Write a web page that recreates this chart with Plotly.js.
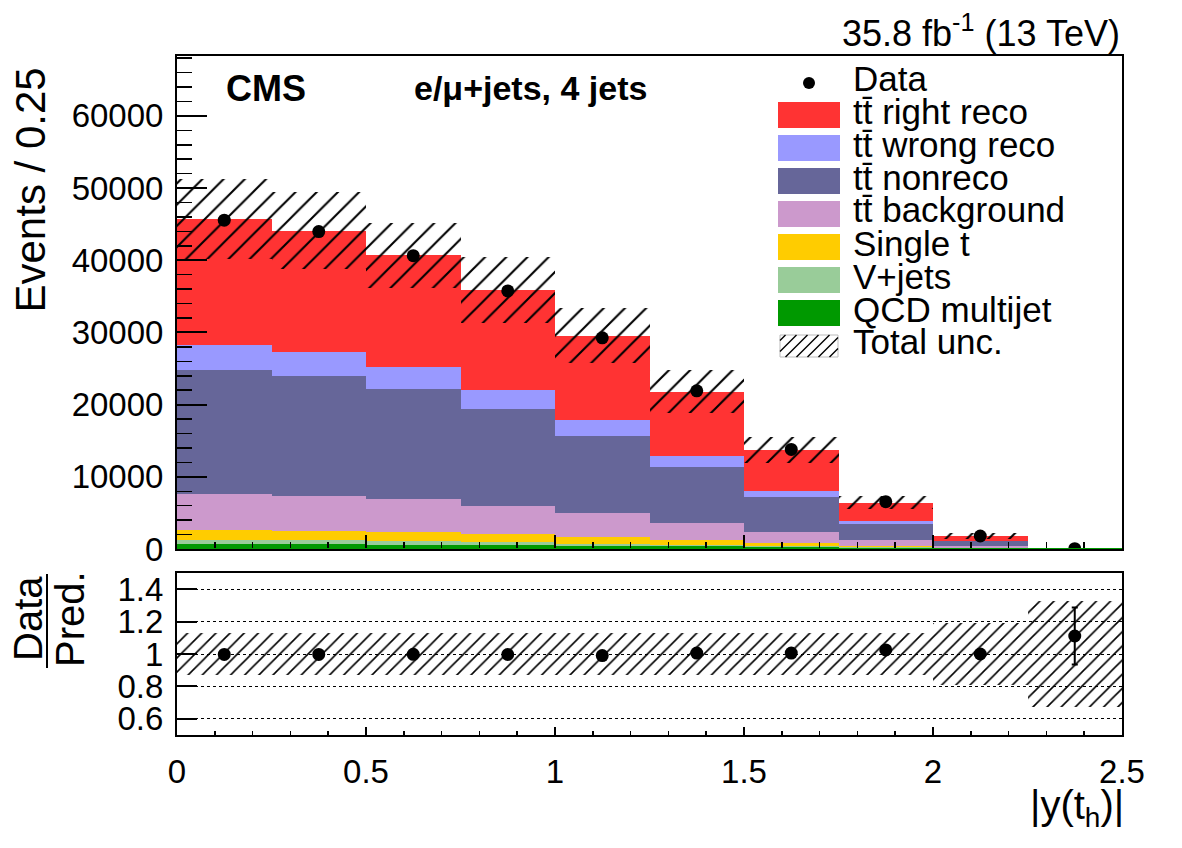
<!DOCTYPE html>
<html>
<head>
<meta charset="utf-8">
<script src="https://cdn.plot.ly/plotly-3.0.1.min.js"></script>
<style>
  html, body { margin: 0; padding: 0; background: #ffffff; }
  #chart { width: 1182px; height: 848px; }
</style>
</head>
<body>
<div id="chart"></div>
<script>
// |y(t_h)| bins, width 0.25
const binCenters = [0.125, 0.375, 0.625, 0.875, 1.125, 1.375, 1.625, 1.875, 2.125, 2.375];

// Stacked predictions (events per bin), bottom to top
const qcdMultijet  = [690, 650, 620, 550, 420, 350, 210, 140, 40, 0.5];
const vJets        = [560, 530, 490, 420, 340, 270, 210, 140, 60, 1.5];
const singleTop    = [1380, 1360, 1290, 1110, 860, 630, 410, 200, 70, 2];
const ttBackground = [4990, 4850, 4480, 3920, 3320, 2310, 1480, 770, 180, 5];
const ttNonreco    = [17170, 16610, 15280, 13390, 10760, 7840, 4930, 2170, 690, 10];
const ttWrongReco  = [3460, 3330, 3090, 2630, 2170, 1520, 840, 460, 110, 3];
const ttRightReco  = [17410, 16760, 15470, 13850, 11670, 8870, 5630, 2520, 650, 14];

// Observed data
const dataCounts = [45550, 43980, 40640, 35760, 29250, 21920, 13790, 6560, 1800, 40];

// Total uncertainty (absolute, upper panel) and relative band (ratio panel)
const totalUnc = [5540, 5335, 4500, 4620, 3810, 2955, 1850, 925, 465, 10];
const ratioUnc = [0.132, 0.132, 0.132, 0.132, 0.132, 0.132, 0.132, 0.132, 0.19, 0.33];

// Axis tick labels
const ratioTickVals = [0.6, 0.8, 1.0, 1.2, 1.4];
const ratioTickText = ['0.6', '0.8', '1', '1.2', '1.4'];
const xTickVals = [0, 0.5, 1, 1.5, 2, 2.5];
const xTickText = ['0', '0.5', '1', '1.5', '2', '2.5'];

const TT = 'tt\u0304';
const series = [
  { name: 'QCD multijet',         values: qcdMultijet,  color: '#009900' },
  { name: 'V+jets',               values: vJets,        color: '#99cc99' },
  { name: 'Single t',             values: singleTop,    color: '#ffcc00' },
  { name: TT + ' background',     values: ttBackground, color: '#cc99cc' },
  { name: TT + ' nonreco',        values: ttNonreco,    color: '#666699' },
  { name: TT + ' wrong reco',     values: ttWrongReco,  color: '#9999ff' },
  { name: TT + ' right reco',     values: ttRightReco,  color: '#ff3333' }
];

const FONT = 'Liberation Sans, Arial, Helvetica, sans-serif';
const BIN_W = 0.25;

const totals = binCenters.map((_, i) => series.reduce((s, c) => s + c.values[i], 0));
const ratio = dataCounts.map((d, i) => d / totals[i]);
const ratioErr = dataCounts.map((d, i) => Math.sqrt(d) / totals[i]);

const traces = [];
series.forEach(s => {
  traces.push({
    type: 'bar', x: binCenters, y: s.values, width: BIN_W,
    marker: { color: s.color, line: { width: 0 } },
    xaxis: 'x', yaxis: 'y', hoverinfo: 'skip', name: s.name
  });
});

// hatched total uncertainty band
traces.push({
  type: 'bar', x: binCenters, width: BIN_W,
  base: totals.map((t, i) => t - totalUnc[i]),
  y: totalUnc.map(u => 2 * u),
  marker: {
    color: 'rgba(0,0,0,0)', line: { width: 0 },
    pattern: { shape: '/', fgcolor: '#000000', fgopacity: 1, bgcolor: 'rgba(0,0,0,0)',
               size: 15, solidity: 0.14, fillmode: 'overlay' }
  },
  xaxis: 'x', yaxis: 'y', hoverinfo: 'skip', name: 'Total unc.'
});

traces.push({
  type: 'scatter', mode: 'markers', x: binCenters, y: dataCounts,
  marker: { color: '#000000', size: 13 },
  error_y: { type: 'data', array: dataCounts.map(d => Math.sqrt(d)), color: '#000000', thickness: 2, width: 0 },
  xaxis: 'x', yaxis: 'y', hoverinfo: 'skip', name: 'Data'
});

// ratio panel
traces.push({
  type: 'bar', x: binCenters, width: BIN_W,
  base: ratioUnc.map(u => 1 - u),
  y: ratioUnc.map(u => 2 * u),
  marker: {
    color: 'rgba(0,0,0,0)', line: { width: 0 },
    pattern: { shape: '/', fgcolor: '#000000', fgopacity: 1, bgcolor: 'rgba(0,0,0,0)',
               size: 10, solidity: 0.16, fillmode: 'overlay' }
  },
  xaxis: 'x2', yaxis: 'y2', hoverinfo: 'skip'
});
traces.push({
  type: 'scatter', mode: 'markers', x: binCenters, y: ratio,
  marker: { color: '#000000', size: 13 },
  error_y: { type: 'data', array: ratioErr, color: '#000000', thickness: 2, width: 3 },
  xaxis: 'x2', yaxis: 'y2', hoverinfo: 'skip'
});

// frame geometry in pixels
const FR = { left: 177, right: 1122, top: 56, bottom: 735, upperBottom: 549, lowerTop: 573 };
const W = FR.right - FR.left, H = FR.bottom - FR.top;
const px = x => (x - FR.left) / W;
const py = y => (FR.bottom - y) / H;

const shapes = [];
const annotations = [];

// legend
const legend = { boxX0: 778, boxX1: 840, textX: 851, rowH: 33, firstRow: 82, boxH: 26 };
const legendRows = [{ kind: 'data', name: 'Data' }]
  .concat(series.slice().reverse().map(s => ({ kind: 'box', name: s.name, color: s.color })))
  .concat([{ kind: 'hatch', name: 'Total unc.' }]);

legendRows.forEach((row, k) => {
  const cy = legend.firstRow + k * legend.rowH;
  if (row.kind === 'data') {
    const cx = (legend.boxX0 + legend.boxX1) / 2, r = 6;
    shapes.push({ type: 'circle', xref: 'paper', yref: 'paper',
      x0: px(cx - r), x1: px(cx + r), y0: py(cy + r + 1), y1: py(cy - r + 1),
      fillcolor: '#000000', line: { width: 0 } });
  } else if (row.kind === 'box') {
    shapes.push({ type: 'rect', xref: 'paper', yref: 'paper',
      x0: px(legend.boxX0), x1: px(legend.boxX1), y0: py(cy + legend.boxH / 2), y1: py(cy - legend.boxH / 2),
      fillcolor: row.color, line: { width: 0 } });
  } else {
    const x0 = legend.boxX0 + 2, x1 = legend.boxX1 - 2, yT = cy - 11, yB = cy + 11;
    shapes.push({ type: 'rect', xref: 'paper', yref: 'paper',
      x0: px(x0), x1: px(x1), y0: py(yB), y1: py(yT),
      fillcolor: 'rgba(0,0,0,0)', line: { width: 1, color: '#bbbbbb' } });
    const h = yB - yT, step = 11;
    let path = '';
    for (let s = x0 - h + step / 2; s < x1; s += step) {
      // segment from (s, yB) to (s + h, yT), clipped to [x0, x1]
      let ax = s, ay = yB, bx = s + h, by = yT;
      if (ax < x0) { ay = yB - (x0 - ax); ax = x0; }
      if (bx > x1) { by = yT + (bx - x1); bx = x1; }
      if (bx <= ax) continue;
      path += `M${px(ax)},${py(ay)} L${px(bx)},${py(by)} `;
    }
    shapes.push({ type: 'path', xref: 'paper', yref: 'paper', path: path.trim(),
      line: { width: 1.4, color: '#000000' } });
  }
  annotations.push({ xref: 'paper', yref: 'paper', x: px(legend.textX), y: py(cy - 4),
    xanchor: 'left', yanchor: 'middle', showarrow: false, text: row.name,
    font: { family: FONT, size: 35, color: '#000000' } });
});

annotations.push(
  { xref: 'paper', yref: 'paper', x: 1.0, y: py(31), xanchor: 'right', yanchor: 'middle', showarrow: false,
    text: '35.8 fb<sup>-1</sup> (13 TeV)', font: { family: FONT, size: 36, color: '#000000' } },
  { xref: 'paper', yref: 'paper', x: px(224), y: py(88), xanchor: 'left', yanchor: 'middle', showarrow: false,
    text: '<b>CMS</b>', font: { family: FONT, size: 36, color: '#000000' } },
  { xref: 'paper', yref: 'paper', x: px(412), y: py(88), xanchor: 'left', yanchor: 'middle', showarrow: false,
    text: '<b>e/μ+jets, 4 jets</b>', font: { family: FONT, size: 34, color: '#000000' } },
  { xref: 'paper', yref: 'paper', x: px(30), y: py(66), xanchor: 'center', yanchor: 'top', showarrow: false,
    textangle: -90, text: 'Events / 0.25', font: { family: FONT, size: 42, color: '#000000' } },
  { xref: 'paper', yref: 'paper', x: px(28), y: py(619), xanchor: 'center', yanchor: 'middle', showarrow: false,
    textangle: -90, text: 'Data', font: { family: FONT, size: 40, color: '#000000' } },
  { xref: 'paper', yref: 'paper', x: px(70), y: py(619), xanchor: 'center', yanchor: 'middle', showarrow: false,
    textangle: -90, text: 'Pred.', font: { family: FONT, size: 40, color: '#000000' } },
  { xref: 'paper', yref: 'paper', x: px(1126), y: py(808), xanchor: 'right', yanchor: 'middle', showarrow: false,
    text: '|y(t<sub>h</sub>)|', font: { family: FONT, size: 40, color: '#000000' } }
);
shapes.push({ type: 'line', xref: 'paper', yref: 'paper', x0: px(47), x1: px(47), y0: py(574), y1: py(668),
  line: { width: 2, color: '#000000' } });

// QCD outline running along the baseline
shapes.push({ type: 'line', xref: 'x', yref: 'y', x0: 0, x1: 2.5, y0: 0, y1: 0,
  line: { width: 2, color: '#009900' } });

const axisCommon = {
  showline: true, linecolor: '#000000', linewidth: 2, mirror: true,
  zeroline: false, ticks: 'inside', tickcolor: '#000000',
  tickfont: { family: FONT, size: 33, color: '#000000' }
};

const layout = {
  width: 1182, height: 848,
  margin: { l: FR.left, r: 1182 - FR.right, t: FR.top, b: 848 - FR.bottom, pad: 0 },
  paper_bgcolor: '#ffffff', plot_bgcolor: '#ffffff',
  barmode: 'stack', bargap: 0, showlegend: false,
  font: { family: FONT, color: '#000000' },
  xaxis: Object.assign({}, axisCommon, {
    anchor: 'y', domain: [0, 1], range: [0, 2.5], showticklabels: false, showgrid: false,
    tickvals: xTickVals, ticklen: 14, tickwidth: 2,
    minor: { dtick: 0.1, ticklen: 7, tickwidth: 1.5, ticks: 'inside', tickcolor: '#000000', showgrid: false }
  }),
  yaxis: Object.assign({}, axisCommon, {
    anchor: 'x', domain: [py(FR.upperBottom), 1], range: [0, 68300], showgrid: false,
    dtick: 10000, tick0: 0, tickformat: 'd', ticklen: 30, tickwidth: 2, ticklabelstandoff: 5,
    minor: { dtick: 2000, ticklen: 15, tickwidth: 1.5, ticks: 'inside', tickcolor: '#000000', showgrid: false }
  }),
  xaxis2: Object.assign({}, axisCommon, {
    anchor: 'y2', domain: [0, 1], range: [0, 2.5], showgrid: false,
    tickvals: xTickVals, ticktext: xTickText, ticklen: 8, tickwidth: 2, ticklabelstandoff: 6,
    minor: { dtick: 0.1, ticklen: 4, tickwidth: 1.5, ticks: 'inside', tickcolor: '#000000', showgrid: false }
  }),
  yaxis2: Object.assign({}, axisCommon, {
    anchor: 'x2', domain: [0, py(FR.lowerTop)], range: [0.5, 1.5],
    tickvals: ratioTickVals, ticktext: ratioTickText, ticklen: 20, tickwidth: 2, ticklabelstandoff: 5,
    showgrid: true, gridcolor: '#000000', gridwidth: 1, griddash: 'dot'
  }),
  shapes: shapes,
  annotations: annotations
};

Plotly.newPlot('chart', traces, layout, { staticPlot: true, displayModeBar: false });
</script>
</body>
</html>
